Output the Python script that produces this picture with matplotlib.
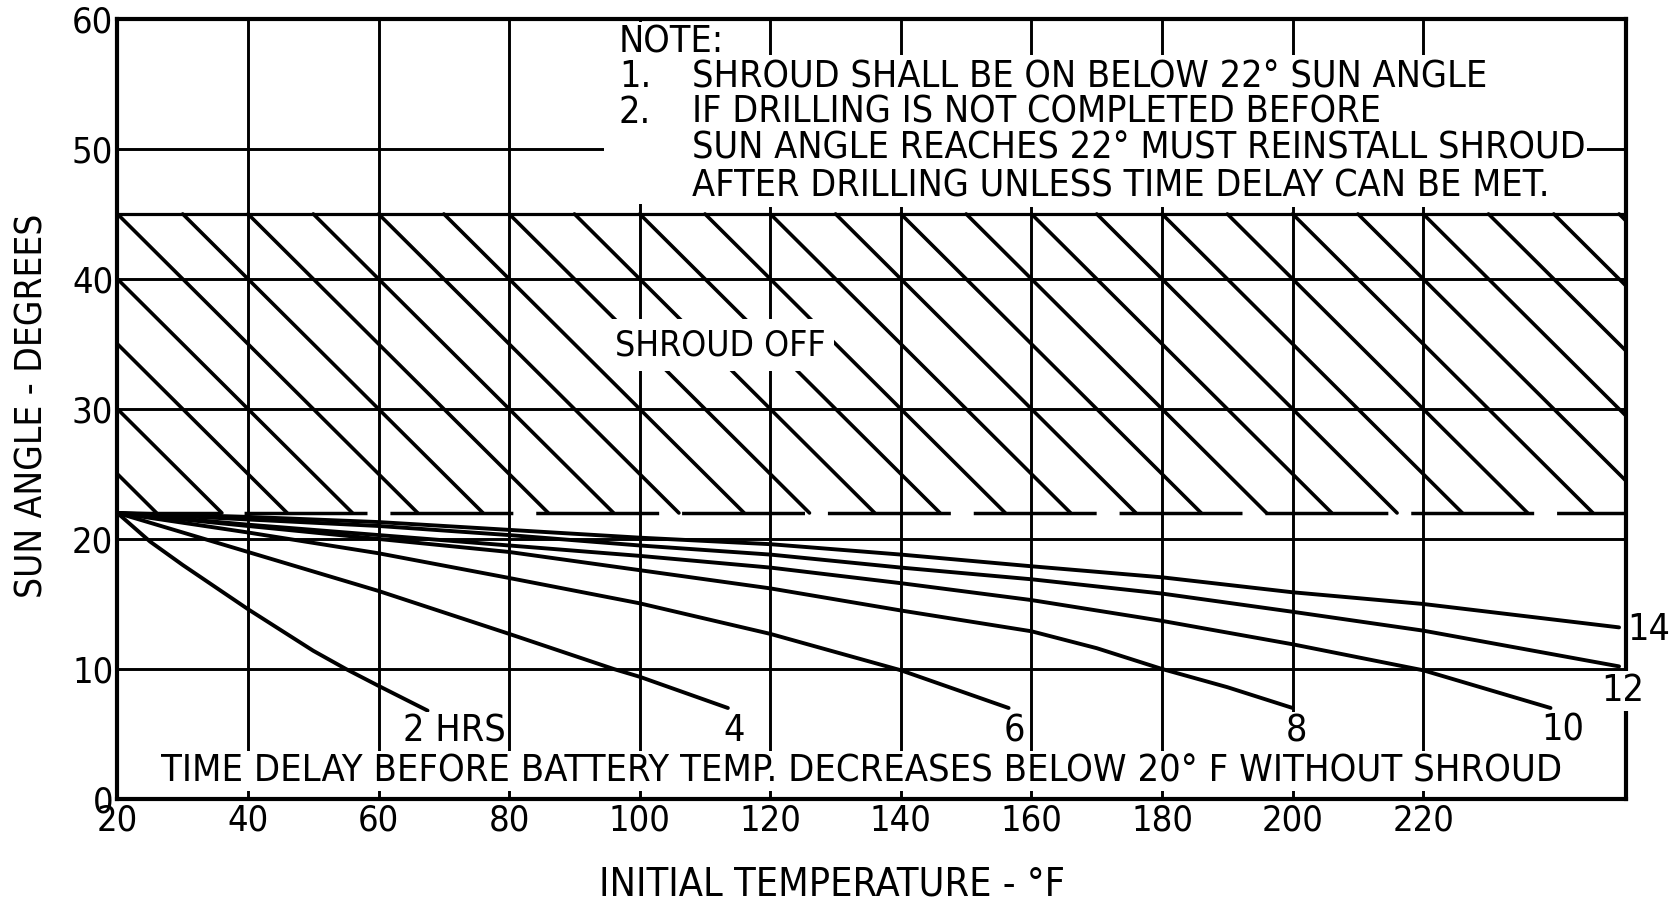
import matplotlib
matplotlib.use('Agg')
import matplotlib.pyplot as plt
from matplotlib.patches import Rectangle
import numpy as np

plt.rcParams['font.family'] = ['DejaVu Sans']
plt.rcParams['font.stretch'] = 'condensed'

# time delay curves: initial temperature (F) vs sun angle (deg)
temp_2 = [20, 25, 30, 40, 50, 55, 60, 67.5]
angle_2 = [22, 19.8, 18.0, 14.6, 11.4, 10.0, 8.7, 6.8]
temp_4 = [20, 30, 40, 60, 80, 96, 100, 113.5]
angle_4 = [22, 20.5, 19.0, 16.0, 12.7, 10.0, 9.4, 7.0]
temp_6 = [20, 40, 60, 80, 100, 120, 140, 156.5]
angle_6 = [22, 20.5, 18.9, 17.0, 15.05, 12.7, 9.9, 7.0]
temp_8 = [20, 40, 60, 80, 100, 120, 140, 160, 170, 180, 190, 200]
angle_8 = [22, 21.0, 20.0, 19.0, 17.6, 16.2, 14.5, 12.9, 11.6, 10.0, 8.6, 7.0]
temp_10 = [20, 40, 60, 80, 100, 120, 140, 160, 180, 200, 220, 239.5]
angle_10 = [22, 21.1, 20.3, 19.5, 18.7, 17.8, 16.6, 15.3, 13.7, 11.9, 9.9, 7.0]
temp_12 = [20, 40, 60, 80, 100, 120, 140, 160, 180, 200, 220, 250]
angle_12 = [22, 21.5, 21.0, 20.3, 19.5, 18.8, 17.8, 16.9, 15.8, 14.4, 12.95, 10.2]
temp_14 = [20, 40, 60, 80, 100, 120, 140, 160, 180, 200, 220, 250]
angle_14 = [22, 21.7, 21.3, 20.7, 20.1, 19.6, 18.8, 17.9, 17.05, 15.9, 15.0, 13.2]

curve_labels = ['2 HRS', '4', '6', '8', '10', '12', '14']

shroud_limit = 22     # shroud must be on below this sun angle
shroud_off_top = 45   # top of the "shroud off" band

x_ticks = [20, 40, 60, 80, 100, 120, 140, 160, 180, 200, 220]
y_ticks = [0, 10, 20, 30, 40, 50, 60]

note_lines = [
    'NOTE:',
    '1.',
    'SHROUD SHALL BE ON BELOW 22° SUN ANGLE',
    '2.',
    'IF DRILLING IS NOT COMPLETED BEFORE',
    'SUN ANGLE REACHES 22° MUST REINSTALL SHROUD',
    'AFTER DRILLING UNLESS TIME DELAY CAN BE MET.',
]

fig = plt.figure(figsize=(16.75, 9.02), dpi=100)
ax = fig.add_axes([0.0701, 0.1142, 0.9004, 0.8648])
xmin, xmax = 20, 251
ax.set_xlim(xmin, xmax)
ax.set_ylim(0, 60)

ax.set_xticks(x_ticks)
ax.set_yticks(y_ticks)
ax.tick_params(length=0, labelsize=26)
ax.tick_params(axis='x', pad=3)
ax.tick_params(axis='y', pad=3)
ax.set_axisbelow(True)
ax.grid(True, color='black', linewidth=2.1)
for sp in ax.spines.values():
    sp.set_linewidth(3.0)

# shroud-off band: top edge, dashed lower edge and the diagonal hatching
ax.axhline(shroud_off_top, color='black', linewidth=2.3, zorder=1.2)
ax.axhline(shroud_limit, color='black', linewidth=2.5, zorder=1.3,
           linestyle=(5.4, (35.4, 6.6)))
for c in np.arange(shroud_limit + 3, 161, 5):
    x0 = max(xmin, xmin + 2 * (c - shroud_off_top))
    y0 = min(c, shroud_off_top)
    x1 = xmin + 2 * (c - shroud_limit)
    y1 = shroud_limit
    if x0 >= xmax:
        continue
    if x1 > xmax:
        x1 = xmax
        y1 = c - 0.5 * (xmax - xmin)
    ax.plot([x0, x1], [y0, y1], color='black', linewidth=2.6, zorder=1.2,
            solid_capstyle='round')

curves = [(temp_2, angle_2), (temp_4, angle_4), (temp_6, angle_6),
          (temp_8, angle_8), (temp_10, angle_10), (temp_12, angle_12),
          (temp_14, angle_14)]
for t, a in curves:
    ax.plot(t, a, color='black', linewidth=2.8, zorder=2,
            solid_capstyle='round', solid_joinstyle='round', clip_on=False)

box = dict(boxstyle='square,pad=0.05', facecolor='white', edgecolor='none')
label_pos = [(71.6, 5.2), (114.4, 5.2), (157.4, 5.2), (200.6, 5.2),
             (241.3, 5.3), (250.6, 8.3), (254.6, 13.0)]
for lab, (lx, ly) in zip(curve_labels, label_pos):
    ax.text(lx, ly, lab, fontsize=27, ha='center', va='center',
            bbox=box if lab != '14' else None, zorder=3, clip_on=False)

ax.text(134, 2.15, 'TIME DELAY BEFORE BATTERY TEMP. DECREASES BELOW 20° F WITHOUT SHROUD',
        fontsize=27.3, ha='center', va='center', bbox=box, zorder=3)
ax.text(112.3, 34.9, 'SHROUD OFF', fontsize=25.5, ha='center', va='center',
        bbox=dict(boxstyle='square,pad=0.25', facecolor='white', edgecolor='none'),
        zorder=3)

# white block behind the note
ax.add_patch(Rectangle((94.5, 45.8), 150.5, 11.4, facecolor='white',
                       edgecolor='none', zorder=1.5))
note_y = [58.2, 55.5, 55.5, 52.8, 52.8, 50.0, 47.1]
note_x = [96.8, 96.8, 108, 96.8, 108, 108, 108]
for s, nx, ny in zip(note_lines, note_x, note_y):
    ax.text(nx, ny, s, fontsize=27, ha='left', va='center', bbox=box, zorder=3)

ax.text(-0.0567, 0.504, 'SUN ANGLE - DEGREES', transform=ax.transAxes,
        rotation=90, fontsize=26.6, ha='center', va='center')
ax.text(0.474, -0.109, 'INITIAL TEMPERATURE - °F', transform=ax.transAxes,
        fontsize=28.4, ha='center', va='center')

fig.savefig('out.png', dpi=100)
